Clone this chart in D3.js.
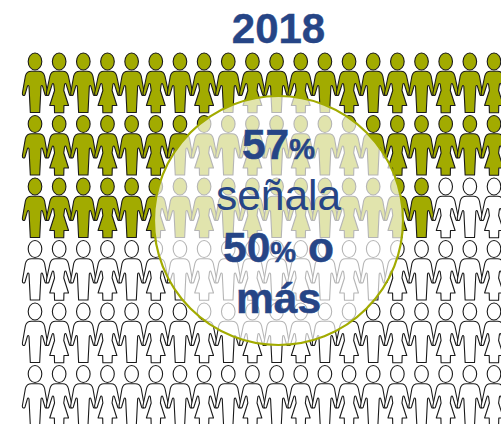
<!DOCTYPE html>
<html>
<head>
<meta charset="utf-8">
<script src="https://cdn.jsdelivr.net/npm/d3@7"></script>
<style>
  html, body { margin: 0; padding: 0; background: #fff; }
  svg { display: block; }
  text { font-family: "Liberation Sans", Arial, sans-serif; fill: #264586; text-anchor: middle; }
</style>
</head>
<body>
<div id="chart"></div>
<script>
const title = "2018";
const columns = d3.range(1, 21);
const rows = ["fila1", "fila2", "fila3", "fila4", "fila5", "fila6"];
// filled figures on each row (57 of the first 100)
const filledPerRow = [20, 20, 17, 0, 0, 0];
const figureTypes = ["hombre", "mujer"];
const calloutLines = [
    [{ t: "57", big: true, bold: true }, { t: "%", big: false, bold: true }],
    [{ t: "señala", big: true, bold: false }],
    [{ t: "50", big: true, bold: true }, { t: "%", big: false, bold: true }, { t: " o", big: true, bold: true }],
    [{ t: "más", big: true, bold: true }]
];

const width = 501, height = 424;
const olive = "#a2ab00", navy = "#264586";

const svg = d3.select("#chart").append("svg")
    .attr("width", width)
    .attr("height", height);

const xScale = d3.scalePoint().domain(columns).range([35, 494]);
const yScale = d3.scalePoint().domain(rows).range([61.5, 374]);

// figure outlines, origin at the centre of the head
const bodies = {
    hombre: "M-3.5,9.8 C-6.8,9.8 -8.8,11 -9.6,14.5 L-12.6,31.5 C-13,34.2 -10.6,34.8 -10,33 L-7.6,24.8 C-7.2,23.6 -6.2,23.8 -6,25 L-4.7,51 L4.7,51 L6,25 C6.2,23.8 7.2,23.6 7.6,24.8 L10,33 C10.6,34.8 13,34.2 12.6,31.5 L9.6,14.5 C8.8,11 6.8,9.8 3.5,9.8 Z",
    mujer: "M-3.5,9.8 C-6.8,9.8 -8.4,11 -9.2,14.5 L-12.8,31.5 C-13.2,34.2 -10.8,34.8 -10.2,33 L-7,22.8 C-6.6,21.6 -5.6,21.8 -5.4,23 L-4.6,29 L-9.4,44 L-4.8,44 L-4.6,51.3 L4.6,51.3 L4.8,44 L9.4,44 L4.6,29 L5.4,23 C5.6,21.8 6.6,21.6 7,22.8 L10.2,33 C10.8,34.8 13.2,34.2 12.8,31.5 L9.2,14.5 C8.4,11 6.8,9.8 3.5,9.8 Z"
};

const figures = [];
rows.forEach(function(row, r) {
    columns.forEach(function(col, c) {
        figures.push({
            row: row,
            col: col,
            type: figureTypes[c % 2],
            filled: c < filledPerRow[r]
        });
    });
});

const figure = svg.append("g").selectAll("g").data(figures)
    .enter().append("g")
    .attr("transform", d => `translate(${xScale(d.col)},${yScale(d.row)})`)
    .attr("fill", d => d.filled ? olive : "#fff")
    .attr("stroke", "#1a1a1a")
    .attr("stroke-width", 1.1)
    .attr("stroke-linejoin", "round");

figure.append("ellipse").attr("rx", 6.8).attr("ry", 8.5);
figure.append("path").attr("d", d => bodies[d.type]);

svg.append("circle")
    .attr("cx", 278.5)
    .attr("cy", 220.5)
    .attr("r", 124.5)
    .attr("fill", "#fff")
    .attr("fill-opacity", 0.68)
    .attr("stroke", olive)
    .attr("stroke-width", 2.2);

svg.append("text")
    .attr("x", 278.5)
    .attr("y", 43)
    .attr("font-size", 42)
    .attr("font-weight", "bold")
    .attr("stroke", navy)
    .attr("stroke-width", 0.4)
    .text(title);

const lineY = d3.scalePoint().domain(d3.range(calloutLines.length)).range([159, 313]);

svg.append("g").selectAll("text").data(calloutLines)
    .enter().append("text")
    .attr("x", 278.5)
    .attr("y", (d, i) => lineY(i))
    .selectAll("tspan").data(d => d)
    .enter().append("tspan")
    .attr("font-size", d => d.big ? 42.5 : 29)
    .attr("font-weight", d => d.bold ? "bold" : "normal")
    .attr("stroke", d => d.bold ? navy : "none")
    .attr("stroke-width", 0.5)
    .style("white-space", "pre")
    .text(d => d.t);
</script>
</body>
</html>
